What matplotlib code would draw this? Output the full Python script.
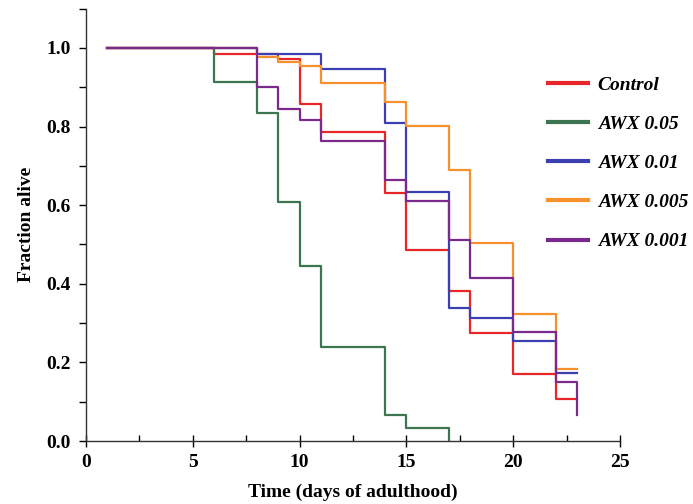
import matplotlib
matplotlib.use("Agg")
import matplotlib.pyplot as plt
from matplotlib.ticker import MultipleLocator

labels = ["Control", "AWX 0.05", "AWX 0.01", "AWX 0.005", "AWX 0.001"]
colors = ["#e8262a", "#3d7550", "#3a40b2", "#f5912c", "#7a2a8c"]

control_t = [1, 6, 9, 10, 11, 14, 15, 17, 18, 20, 22, 23]
control_s = [1.0, 0.986, 0.972, 0.857, 0.785, 0.632, 0.486, 0.382, 0.274, 0.170, 0.106, 0.106]

awx005_t = [1, 6, 8, 9, 10, 11, 14, 15, 17]
awx005_s = [1.0, 0.913, 0.835, 0.609, 0.446, 0.240, 0.066, 0.033, 0.0]

awx001_t = [1, 8, 11, 14, 15, 17, 18, 20, 22, 23]
awx001_s = [1.0, 0.984, 0.946, 0.810, 0.634, 0.338, 0.312, 0.255, 0.174, 0.174]

awx0005_t = [1, 8, 9, 10, 11, 14, 15, 17, 18, 20, 22, 23]
awx0005_s = [1.0, 0.976, 0.965, 0.954, 0.910, 0.862, 0.802, 0.690, 0.505, 0.322, 0.182, 0.182]

awx0001_t = [1, 8, 9, 10, 11, 14, 15, 17, 18, 20, 22, 23]
awx0001_s = [1.0, 0.900, 0.845, 0.818, 0.763, 0.664, 0.611, 0.511, 0.416, 0.277, 0.151, 0.066]

series = [(control_t, control_s), (awx005_t, awx005_s), (awx001_t, awx001_s),
          (awx0005_t, awx0005_s), (awx0001_t, awx0001_s)]

plt.rcParams['font.family'] = ['Liberation Serif', 'DejaVu Serif']
plt.rcParams['font.weight'] = 'bold'

fig = plt.figure(figsize=(6.93, 5.04), dpi=100)
ax = fig.add_axes([86/693, 1 - 441/504, (620 - 86)/693, (441 - 8.7)/504])

handles = []
for (t, s), c, lab in zip(series, colors, labels):
    h, = ax.step(t, s, where='post', color=c, lw=1.6, label=lab)
    handles.append(h)

ax.set_xlim(0, 25)
ax.set_ylim(0, 1.1)
ax.spines['top'].set_visible(False)
ax.spines['right'].set_visible(False)
for sp in ax.spines.values():
    sp.set_linewidth(1.0)
    sp.set_color('#333333')

ax.xaxis.set_major_locator(MultipleLocator(5))
ax.xaxis.set_minor_locator(MultipleLocator(2.5))
ax.yaxis.set_minor_locator(MultipleLocator(0.1))
ax.set_yticks([0, 0.2, 0.4, 0.6, 0.8, 1.0])
ax.set_yticklabels(["0.0", "0.2", "0.4", "0.6", "0.8", "1.0"])
ax.tick_params(axis='x', which='major', direction='inout', length=9, width=1, labelsize=14, pad=5)
ax.tick_params(axis='x', which='minor', direction='in', length=4, width=1)
ax.tick_params(axis='y', which='major', direction='out', length=5, width=1, labelsize=14, pad=6)
ax.tick_params(axis='y', which='minor', direction='out', length=5, width=1)

ax.set_xlabel("Time (days of adulthood)", fontsize=14, fontweight='bold', labelpad=9)
ax.set_ylabel("Fraction alive", fontsize=14, fontweight='bold', labelpad=8)

leg = fig.legend(handles=handles, labels=labels, loc='upper left',
                 bbox_to_anchor=(548/693, 1 - 76/504), frameon=False,
                 borderaxespad=0, borderpad=0, handlelength=2.05, handletextpad=0.5,
                 labelspacing=1.11, prop={'family': 'Liberation Serif', 'weight': 'bold',
                                          'style': 'italic', 'size': 14})
for lh in leg.legend_handles:
    lh.set_linewidth(3)

fig.savefig("out.png", dpi=100)
